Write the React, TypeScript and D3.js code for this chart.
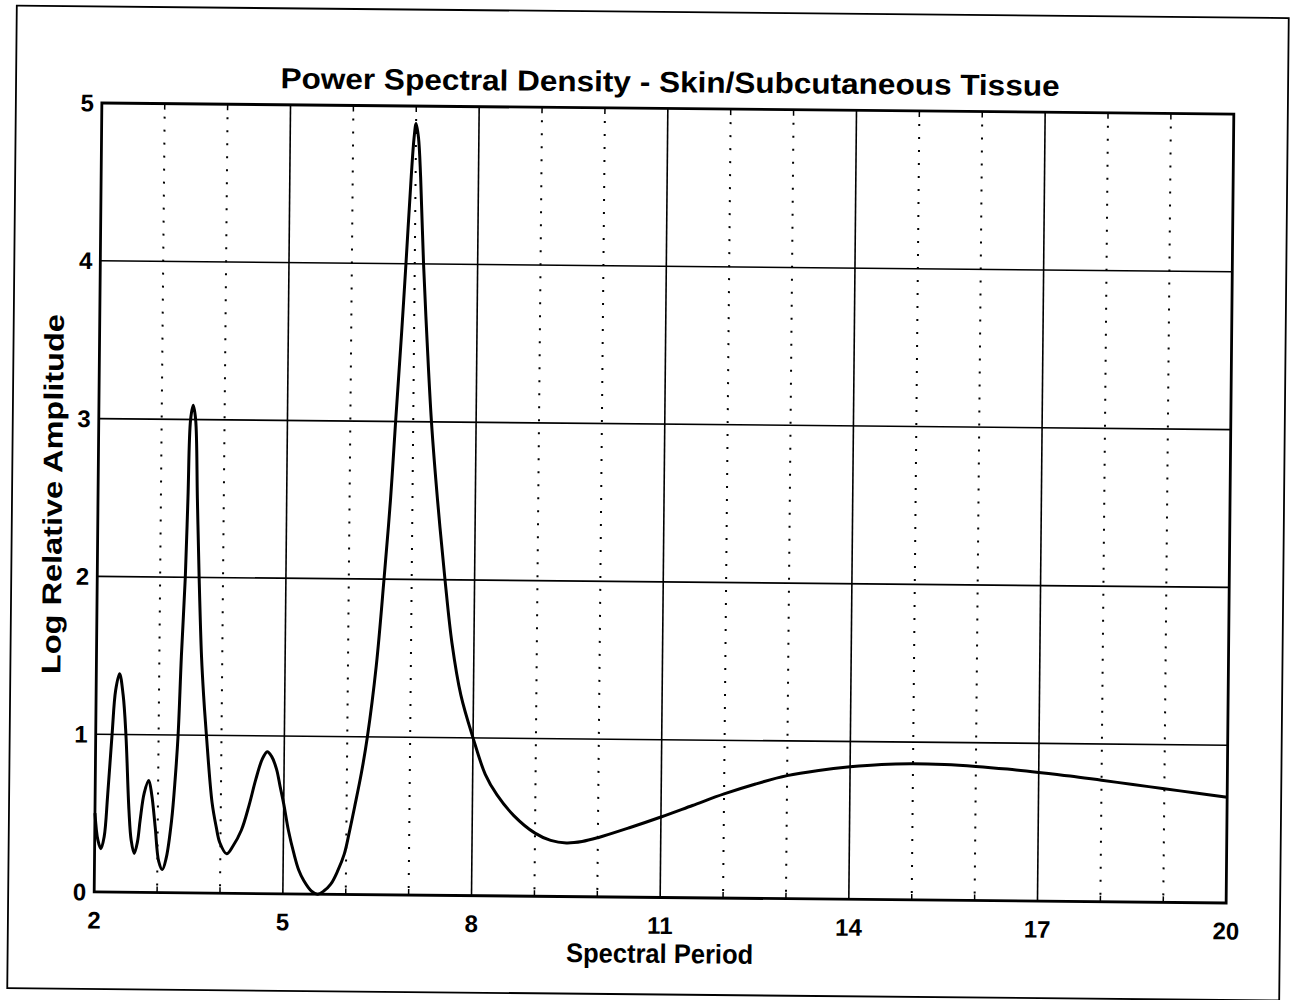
import React from 'react';
import * as d3 from 'd3';

// ---- data ----
const periods = [
  2.0, 2.05, 2.1, 2.15, 2.2, 2.26, 2.31, 2.37, 2.43, 2.48, 2.54, 2.58, 2.63, 2.68, 2.72, 2.78, 2.85, 2.9, 2.96, 3.02,
  3.08, 3.14, 3.22, 3.27, 3.31, 3.35, 3.4, 3.43, 3.46, 3.5, 3.54, 3.58, 3.62, 3.67, 3.71, 3.76, 3.86, 3.93, 3.99, 4.1,
  4.2, 4.33, 4.45, 4.55, 4.65, 4.73, 4.8, 4.88, 4.94, 5.0, 5.08, 5.17, 5.25, 5.33, 5.45, 5.55, 5.65, 5.76, 5.87, 5.97,
  6.05, 6.13, 6.23, 6.32, 6.45, 6.56, 6.65, 6.72, 6.8, 6.86, 6.93, 6.97, 7.0, 7.04, 7.08, 7.14, 7.21, 7.29, 7.4, 7.53,
  7.65, 7.8, 8.0, 8.2, 8.39, 8.66, 9.0, 9.25, 9.5, 9.75, 10.0, 10.5, 11.0, 11.5, 12.0, 12.5, 13.0, 13.5, 14.0, 14.5,
  15.0, 15.5, 16.0, 16.5, 17.0, 17.5, 18.0, 18.5, 19.0, 19.5, 20.0,
];
const amplitudes = [
  0.5, 0.33, 0.275, 0.35, 0.62, 1.0, 1.28, 1.385, 1.25, 1.0, 0.52, 0.33, 0.247, 0.32, 0.46, 0.63, 0.71, 0.62, 0.415, 0.2,
  0.146, 0.22, 0.46, 0.72, 1.0, 1.5, 2.0, 2.5, 3.0, 3.09, 3.0, 2.5, 2.0, 1.5, 1.25, 1.0, 0.575, 0.42, 0.32, 0.25,
  0.3, 0.4, 0.56, 0.72, 0.85, 0.9, 0.87, 0.79, 0.68, 0.57, 0.4, 0.255, 0.15, 0.085, 0.02, 0.0, 0.02, 0.064, 0.15, 0.255,
  0.4, 0.56, 0.77, 1.0, 1.45, 2.0, 2.5, 3.0, 3.55, 4.0, 4.55, 4.8, 4.89, 4.8, 4.55, 4.0, 3.5, 3.0, 2.5, 2.0,
  1.6, 1.27, 1.0, 0.77, 0.64, 0.51, 0.4, 0.355, 0.34, 0.35, 0.375, 0.44, 0.51, 0.585, 0.66, 0.725, 0.78, 0.815, 0.84, 0.857,
  0.863, 0.86, 0.85, 0.835, 0.816, 0.795, 0.77, 0.745, 0.72, 0.695, 0.67,
];
const xMajorTicks = [2, 5, 8, 11, 14, 17, 20];
const xMinorTicks = [3, 4, 6, 7, 9, 10, 12, 13, 15, 16, 18, 19];
const yTicks = [0, 1, 2, 3, 4, 5];
const titleText = 'Power Spectral Density - Skin/Subcutaneous Tissue';
const xLabelText = 'Spectral Period';
const yLabelText = 'Log Relative Amplitude';

const FONT = '"Liberation Sans", Arial, Helvetica, sans-serif';

export default function App() {
  const W = 1291;
  const H = 1000;
  const left = 98;
  const right = 1230;
  const top = 108.5;
  const bottom = 897.5;
  const cx = (left + right) / 2;
  const cy = (top + bottom) / 2;

  const x = d3.scaleLinear().domain([2, 20]).range([left, right]);
  const y = d3.scaleLinear().domain([0, 5]).range([bottom, top]);

  const pts: [number, number][] = periods.map((p, i) => [p, amplitudes[i]]);
  const lineGen = d3
    .line<[number, number]>()
    .x((d) => x(d[0]))
    .y((d) => y(d[1]))
    .curve(d3.curveCatmullRom.alpha(0.5));
  const path = lineGen(pts) || '';

  return (
    <svg
      width={W}
      height={H}
      viewBox={`0 0 ${W} ${H}`}
      style={{ position: 'absolute', left: 0, top: 0, background: '#fff' }}
    >
      <rect x={0} y={0} width={W} height={H} fill="#fff" />
      <g transform={`rotate(0.557, ${cx}, ${cy})`}>
        {/* outer frame */}
        <rect x={12} y={12} width={1272} height={982.5} fill="none" stroke="#000" strokeWidth={1.8} />

        {/* title */}
        <text
          x={666}
          y={92}
          textAnchor="middle"
          fontFamily={FONT}
          fontWeight="bold"
          fontSize={29}
          textLength={779}
          lengthAdjust="spacingAndGlyphs"
          fill="#000"
        >
          {titleText}
        </text>

        {/* minor dotted grid */}
        {xMinorTicks.map((t) => (
          <g key={'m' + t}>
            <line
              x1={x(t)}
              x2={x(t)}
              y1={top + 13}
              y2={bottom}
              stroke="#000"
              strokeWidth={2}
              strokeDasharray="2 11"
            />
            <line x1={x(t)} x2={x(t)} y1={top} y2={top + 6} stroke="#000" strokeWidth={1.5} />
            <line x1={x(t)} x2={x(t)} y1={bottom - 6} y2={bottom} stroke="#000" strokeWidth={1.5} />
          </g>
        ))}

        {/* major solid grid */}
        {xMajorTicks.slice(1, -1).map((t) => (
          <line key={'xg' + t} x1={x(t)} x2={x(t)} y1={top} y2={bottom} stroke="#000" strokeWidth={1.6} />
        ))}
        {yTicks.slice(1, -1).map((t) => (
          <line key={'yg' + t} x1={left} x2={right} y1={y(t)} y2={y(t)} stroke="#000" strokeWidth={1.6} />
        ))}

        {/* curve */}
        <path d={path} fill="none" stroke="#000" strokeWidth={3} strokeLinejoin="round" />

        {/* axes frame */}
        <rect
          x={left}
          y={top}
          width={right - left}
          height={bottom - top}
          fill="none"
          stroke="#000"
          strokeWidth={2.8}
        />

        {/* x tick labels */}
        {xMajorTicks.map((t) => (
          <text
            key={'xl' + t}
            x={x(t)}
            y={934}
            textAnchor="middle"
            fontFamily={FONT}
            fontWeight="bold"
            fontSize={24}
            fill="#000"
          >
            {t}
          </text>
        ))}

        {/* y tick labels */}
        {yTicks.map((t) => (
          <text
            key={'yl' + t}
            x={left - 8}
            y={y(t) + 8.5}
            textAnchor="end"
            fontFamily={FONT}
            fontWeight="bold"
            fontSize={24}
            fill="#000"
          >
            {t}
          </text>
        ))}

        {/* axis labels */}
        <text
          x={664}
          y={963}
          textAnchor="middle"
          fontFamily={FONT}
          fontWeight="bold"
          fontSize={27}
          textLength={187}
          lengthAdjust="spacingAndGlyphs"
          fill="#000"
        >
          {xLabelText}
        </text>
        <text
          transform={`translate(62, 500) rotate(-90)`}
          x={0}
          y={0}
          textAnchor="middle"
          fontFamily={FONT}
          fontWeight="bold"
          fontSize={27}
          textLength={360}
          lengthAdjust="spacingAndGlyphs"
          fill="#000"
        >
          {yLabelText}
        </text>
      </g>
    </svg>
  );
}
